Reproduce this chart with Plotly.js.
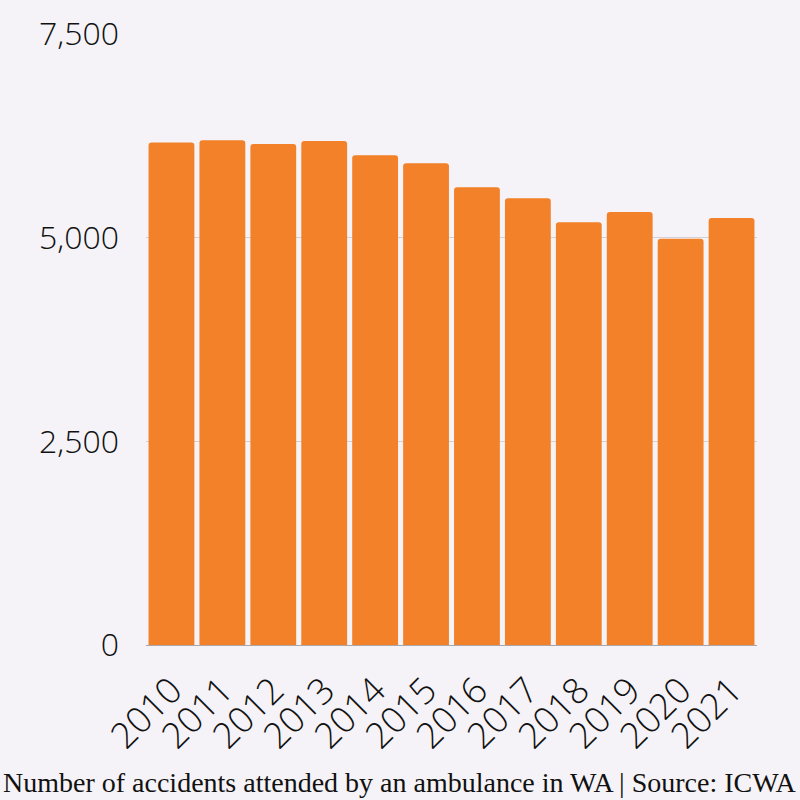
<!DOCTYPE html>
<html>
<head>
<meta charset="utf-8">
<script src="https://cdn.plot.ly/plotly-3.0.1.min.js"></script>
<style>
html,body{margin:0;padding:0;background:#f5f3f7;}
#chart{width:800px;height:800px;}
</style>
</head>
<body>
<div id="chart"></div>
<script>
const years = ['2010','2011','2012','2013','2014','2015','2016','2017','2018','2019','2020','2021'];
const accidents = [6167,6195,6151,6188,6011,5913,5618,5483,5188,5316,4988,5242];
const yTicks = [0,2500,5000,7500];
const yTickText = ['0','2,500','5,000','7,500'];
const caption = 'Number of accidents attended by an ambulance in WA | Source: ICWA';

const trace = {
  type:'bar',
  x: years,
  y: accidents,
  marker:{color:'#f2812a', line:{width:0}},
  hoverinfo:'x+y'
};

const layout = {
  width:800, height:800,
  paper_bgcolor:'#f5f3f7',
  plot_bgcolor:'#f5f3f7',
  margin:{l:146, r:43, t:34, b:155},
  bargap:0.1,
  barcornerradius:3,
  showlegend:false,
  font:{family:'Open Sans, sans-serif', color:'#111111'},
  xaxis:{
    type:'category',
    tickangle:-45,
    tickfont:{size:36, family:'Open Sans, sans-serif', weight:300, color:'#111111'},
    showgrid:false,
    showline:false,
    ticks:'',
    ticklabelstandoff:16
  },
  yaxis:{
    range:[0,7500],
    tickvals:yTicks,
    ticktext:yTickText,
    tickfont:{size:32, family:'Open Sans, sans-serif', weight:300, color:'#111111'},
    showgrid:true,
    gridcolor:'#d3d1d6',
    gridwidth:1,
    zeroline:true,
    zerolinecolor:'#a9a7ab',
    zerolinewidth:1,
    showline:false,
    ticks:'',
    ticklabelstandoff:26
  },
  annotations:[{
    text:caption,
    xref:'paper', yref:'paper',
    x:0, y:0, xanchor:'center', yanchor:'middle',
    yshift:-137,
    showarrow:false,
    font:{family:'Liberation Serif, serif', size:28, color:'#111111'}
  }]
};
layout.annotations[0].x = (400-146)/(800-146-43);

Plotly.newPlot('chart',[trace],layout,{displayModeBar:false,staticPlot:true});
</script>
</body>
</html>
